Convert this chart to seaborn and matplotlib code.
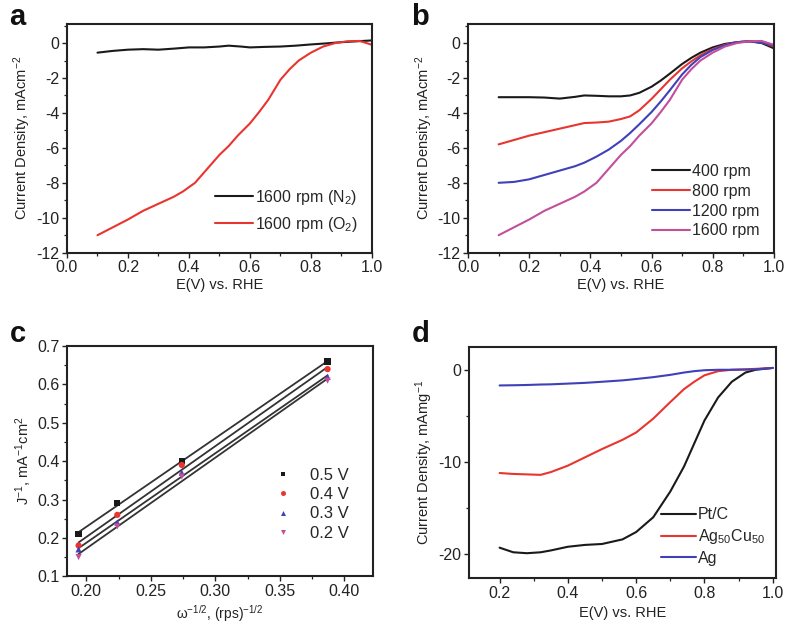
import numpy as np
import pandas as pd
import matplotlib
matplotlib.use("Agg")
import matplotlib.pyplot as plt
from matplotlib.ticker import MultipleLocator, FormatStrFormatter
import seaborn as sns

# ---- panel a: LSV at 1600 rpm in N2 / O2 ----
a_n2_e = [0.10, 0.15, 0.20, 0.25, 0.30, 0.35, 0.40, 0.45, 0.50, 0.53, 0.57, 0.60,
          0.65, 0.70, 0.75, 0.80, 0.85, 0.90, 0.95, 1.00]
a_n2_j = [-0.55, -0.45, -0.38, -0.35, -0.38, -0.32, -0.25, -0.25, -0.20, -0.15, -0.20,
          -0.25, -0.22, -0.20, -0.15, -0.08, -0.02, 0.05, 0.10, 0.15]

# rpm series (shared potential grid)
b_e = [0.10, 0.15, 0.20, 0.25, 0.30, 0.35, 0.38, 0.42, 0.46, 0.50, 0.53, 0.56, 0.60,
       0.63, 0.66, 0.70, 0.73, 0.76, 0.80, 0.84, 0.88, 0.92, 0.96, 1.00]
b_400 = [-3.10, -3.10, -3.10, -3.12, -3.18, -3.08, -3.00, -3.02, -3.05, -3.05, -3.00,
         -2.85, -2.50, -2.15, -1.75, -1.20, -0.85, -0.55, -0.25, -0.05, 0.05, 0.10, 0.00, -0.30]
b_800 = [-5.80, -5.55, -5.30, -5.10, -4.90, -4.70, -4.58, -4.55, -4.50, -4.35, -4.20,
         -3.85, -3.20, -2.65, -2.10, -1.45, -1.05, -0.70, -0.35, -0.10, 0.05, 0.10, 0.05, -0.20]
b_1200 = [-8.00, -7.95, -7.80, -7.55, -7.30, -7.05, -6.85, -6.50, -6.10, -5.60, -5.15,
          -4.65, -3.95, -3.35, -2.70, -1.80, -1.25, -0.80, -0.40, -0.12, 0.05, 0.10, 0.02, -0.15]
b_1600 = [-11.00, -10.55, -10.10, -9.60, -9.20, -8.80, -8.50, -8.00, -7.20, -6.40, -5.90,
          -5.30, -4.60, -3.95, -3.25, -2.10, -1.50, -1.00, -0.55, -0.20, 0.00, 0.10, 0.12, -0.10]
b_labels = ["400 rpm", "800 rpm", "1200 rpm", "1600 rpm"]

# ---- panel c: Koutecky-Levich data ----
c_w = [0.194, 0.224, 0.274, 0.387]
c_05 = [0.21, 0.29, 0.40, 0.66]
c_04 = [0.18, 0.26, 0.39, 0.64]
c_03 = [0.17, 0.24, 0.37, 0.62]
c_02 = [0.15, 0.23, 0.36, 0.61]
c_labels = ["0.5 V", "0.4 V", "0.3 V", "0.2 V"]

# ---- panel d: mass activity comparison ----
d_e = [0.20, 0.24, 0.28, 0.32, 0.35, 0.40, 0.45, 0.50, 0.56, 0.60, 0.65, 0.70, 0.74,
       0.77, 0.80, 0.84, 0.88, 0.92, 0.95, 1.00]
d_ptc = [-19.3, -19.8, -19.9, -19.8, -19.6, -19.2, -19.0, -18.9, -18.4, -17.6, -16.0,
         -13.2, -10.5, -8.0, -5.5, -3.0, -1.3, -0.3, 0.0, 0.2]
d_agcu = [-11.2, -11.3, -11.35, -11.4, -11.1, -10.4, -9.5, -8.6, -7.6, -6.8, -5.3,
          -3.5, -2.1, -1.3, -0.6, -0.15, 0.0, 0.05, 0.1, 0.2]
d_ag = [-1.70, -1.68, -1.65, -1.60, -1.58, -1.50, -1.42, -1.30, -1.15, -1.00, -0.80,
        -0.55, -0.30, -0.15, -0.05, 0.00, 0.00, 0.02, 0.05, 0.20]
d_labels = ["Pt/C", "Ag$_{50}$Cu$_{50}$", "Ag"]

sns.set_theme(style="ticks")
plt.rcParams["font.family"] = ["Liberation Sans", "DejaVu Sans"]
plt.rcParams["mathtext.fontset"] = "custom"
plt.rcParams["mathtext.rm"] = "Liberation Sans"
plt.rcParams["mathtext.it"] = "Liberation Sans"
plt.rcParams["mathtext.default"] = "regular"
plt.rcParams["axes.unicode_minus"] = False

BLACK, RED, BLUE, MAG = "#1a1a1a", "#e8352f", "#4040b8", "#c24f9a"
LW = 1.5
TXT = "#222222"

fig = plt.figure(figsize=(7.88, 6.27), dpi=100)
ax_a = fig.add_axes([0.085, 0.597, 0.387, 0.365])
ax_b = fig.add_axes([0.594, 0.597, 0.388, 0.365])
ax_c = fig.add_axes([0.085, 0.081, 0.388, 0.367])
ax_d = fig.add_axes([0.595, 0.078, 0.390, 0.369])


def style(ax):
    for s in ax.spines.values():
        s.set_linewidth(1.5)
        s.set_color(TXT)
    ax.tick_params(which="major", direction="out", length=3.5, width=1.0,
                   labelsize=11.5, pad=2, colors=TXT)
    ax.tick_params(which="minor", direction="out", length=2, width=0.9, colors=TXT)


# panel a
df_a = pd.concat([
    pd.DataFrame({"E": a_n2_e, "J": a_n2_j, "s": "1600 rpm (N$_2$)"}),
    pd.DataFrame({"E": b_e, "J": b_1600, "s": "1600 rpm (O$_2$)"}),
])
sns.lineplot(data=df_a, x="E", y="J", hue="s", palette=[BLACK, RED], lw=LW,
             ax=ax_a, sort=False)
ax_a.set_xlim(0, 1.0)
ax_a.set_ylim(-12, 1.1)
ax_a.xaxis.set_major_locator(MultipleLocator(0.2))
ax_a.xaxis.set_minor_locator(MultipleLocator(0.1))
ax_a.yaxis.set_major_locator(MultipleLocator(2))
ax_a.yaxis.set_minor_locator(MultipleLocator(1))
ax_a.set_xlabel("E(V) vs. RHE", fontsize=10.5, labelpad=2, color=TXT)
ax_a.set_ylabel("Current Density, mAcm$^{-2}$", fontsize=10.5, labelpad=2, color=TXT)
ax_a.legend(loc="lower right", bbox_to_anchor=(1.0, 0.02), frameon=False,
            fontsize=11.5, handlelength=2.4, handletextpad=0.1, labelspacing=0.5)

# panel b
df_b = pd.concat([pd.DataFrame({"E": b_e, "J": y, "s": l})
                  for y, l in zip([b_400, b_800, b_1200, b_1600], b_labels)])
sns.lineplot(data=df_b, x="E", y="J", hue="s", palette=[BLACK, RED, BLUE, MAG],
             lw=LW, ax=ax_b, sort=False)
ax_b.set_xlim(0, 1.0)
ax_b.set_ylim(-12, 1.1)
ax_b.xaxis.set_major_locator(MultipleLocator(0.2))
ax_b.xaxis.set_minor_locator(MultipleLocator(0.1))
ax_b.yaxis.set_major_locator(MultipleLocator(2))
ax_b.yaxis.set_minor_locator(MultipleLocator(1))
ax_b.set_xlabel("E(V) vs. RHE", fontsize=10.5, labelpad=2, color=TXT)
ax_b.set_ylabel("Current Density, mAcm$^{-2}$", fontsize=10.5, labelpad=2, color=TXT)
ax_b.legend(loc="lower right", bbox_to_anchor=(1.0, 0.0), frameon=False,
            fontsize=11.5, handlelength=2.4, handletextpad=0.1, labelspacing=0.3)

# panel c
df_c = pd.concat([pd.DataFrame({"w": c_w, "J": y, "s": l})
                  for y, l in zip([c_05, c_04, c_03, c_02], c_labels)])
for y in [c_05, c_04, c_03, c_02]:
    sns.regplot(x=np.array(c_w), y=np.array(y), scatter=False, ci=None,
                truncate=True, color="#333333", line_kws={"lw": 1.3}, ax=ax_c)
sns.scatterplot(data=df_c, x="w", y="J", hue="s", style="s",
                markers=["s", "o", "^", "v"], palette=[BLACK, RED, BLUE, MAG],
                s=20, edgecolor="none", ax=ax_c, zorder=3)
ax_c.set_xlim(0.185, 0.422)
ax_c.set_ylim(0.1, 0.7)
ax_c.xaxis.set_major_locator(MultipleLocator(0.05))
ax_c.xaxis.set_minor_locator(MultipleLocator(0.025))
ax_c.yaxis.set_major_locator(MultipleLocator(0.1))
ax_c.yaxis.set_minor_locator(MultipleLocator(0.05))
ax_c.xaxis.set_major_formatter(FormatStrFormatter("%.2f"))
ax_c.set_xlabel("ω$^{-1/2}$, (rps)$^{-1/2}$", fontsize=10, labelpad=3, color=TXT)
ax_c.set_ylabel("J$^{-1}$, mA$^{-1}$cm$^{2}$", fontsize=10.5, labelpad=2, color=TXT)
ax_c.legend(loc="lower right", bbox_to_anchor=(0.97, 0.09), frameon=False,
            fontsize=12, handletextpad=0.6, labelspacing=0.25, markerscale=0.8)

# panel d
df_d = pd.concat([pd.DataFrame({"E": d_e, "J": y, "s": l})
                  for y, l in zip([d_ptc, d_agcu, d_ag], d_labels)])
sns.lineplot(data=df_d, x="E", y="J", hue="s", palette=[BLACK, RED, BLUE],
             lw=LW, ax=ax_d, sort=False)
ax_d.set_xlim(0.11, 1.01)
ax_d.set_ylim(-22.6, 2.5)
ax_d.xaxis.set_major_locator(MultipleLocator(0.2))
ax_d.xaxis.set_minor_locator(MultipleLocator(0.1))
ax_d.yaxis.set_major_locator(MultipleLocator(10))
ax_d.yaxis.set_minor_locator(MultipleLocator(5))
ax_d.set_xlabel("E(V) vs. RHE", fontsize=10.5, labelpad=4, color=TXT)
ax_d.set_ylabel("Current Density, mAmg$^{-1}$", fontsize=10.5, labelpad=2, color=TXT)
ax_d.legend(loc="lower right", bbox_to_anchor=(1.01, -0.01), frameon=False,
            fontsize=11.5, handlelength=2.2, handletextpad=0.1, labelspacing=0.3)

for ax in (ax_a, ax_b, ax_c, ax_d):
    style(ax)

for lbl, (x, y) in zip("abcd", [(0.012, 0.995), (0.522, 0.995), (0.012, 0.49), (0.522, 0.49)]):
    fig.text(x, y, lbl, fontsize=21, fontweight="bold", va="top", ha="left", color="#111111")

fig.savefig("out.png", dpi=100, facecolor="white")
